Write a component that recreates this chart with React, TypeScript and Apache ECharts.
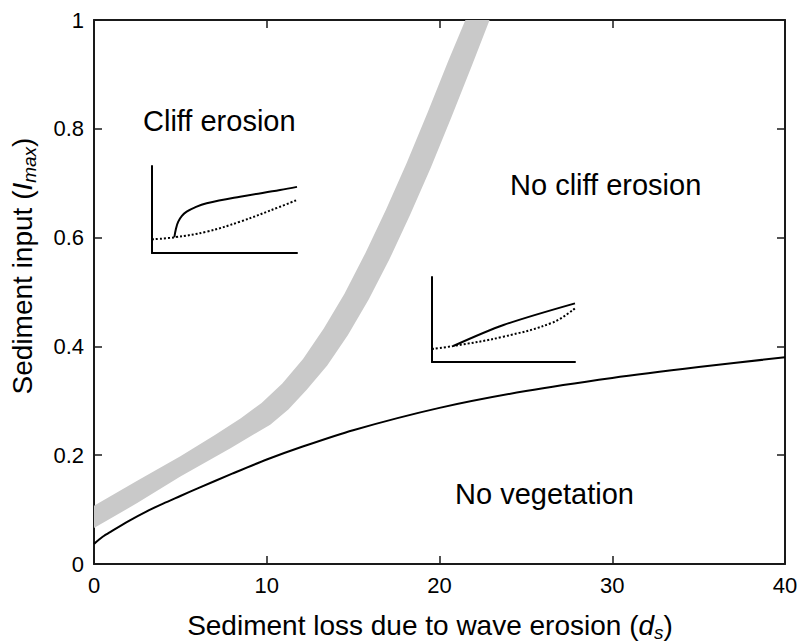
import React, { useEffect, useRef } from "react";
import * as echarts from "echarts";

// Main axes
const xTicks = [0, 10, 20, 30, 40];
const yTicks = [0, 0.2, 0.4, 0.6, 0.8, 1];

// "No vegetation" boundary (black line)
const noVegX = [0, 0.5, 1, 2, 3, 4, 5, 6, 8, 10, 12, 15, 20, 25, 30, 35, 40];
const noVegY = [0.037, 0.05, 0.06, 0.079, 0.096, 0.111, 0.125, 0.139, 0.166, 0.192, 0.215, 0.246, 0.287, 0.318, 0.342, 0.362, 0.38];

// Grey band (cliff erosion threshold) - upper/left edge
const bandUpperX = [0, 2.5, 5, 7, 8.5, 9.7, 10.9, 12.1, 13.3, 14.5, 15.7, 16.9, 18.1, 19.3, 20.5, 21.5];
const bandUpperY = [0.107, 0.153, 0.198, 0.237, 0.268, 0.296, 0.332, 0.377, 0.433, 0.497, 0.571, 0.651, 0.737, 0.829, 0.924, 1.0];
// lower/right edge
const bandLowerX = [0, 2.5, 5, 7.9, 10.2, 11.25, 12.3, 13.5, 14.7, 15.9, 17.1, 18.3, 19.5, 20.7, 21.9, 22.9];
const bandLowerY = [0.066, 0.112, 0.161, 0.213, 0.256, 0.284, 0.32, 0.365, 0.421, 0.486, 0.56, 0.642, 0.729, 0.822, 0.918, 1.0];

// Inset 1 (cliff erosion) schematic, 0..10 both axes
const in1SolidX = [1.54, 1.66, 1.81, 2.05, 2.39, 2.97, 3.77, 6.07, 8.83, 10];
const in1SolidY = [1.8, 2.84, 3.6, 4.25, 4.75, 5.25, 5.71, 6.47, 7.24, 7.6];
const in1DotX = [0, 1.54, 3.77, 6.07, 8.83, 10];
const in1DotY = [1.57, 1.8, 2.45, 3.6, 5.32, 6.1];

// Inset 2 (no cliff erosion) schematic
const in2SolidX = [1.49, 5.0, 10];
const in2SolidY = [1.88, 4.35, 6.9];
const in2DotX = [0, 1.49, 5.0, 8.48, 10];
const in2DotY = [1.53, 1.88, 2.98, 4.67, 6.32];

const FONT = '"Liberation Sans", Arial, Helvetica, sans-serif';
const zip = (xs: number[], ys: number[]) => xs.map((x, i) => [x, ys[i]]);

export default function App() {
  const ref = useRef<HTMLDivElement>(null);
  useEffect(() => {
    if (!ref.current) return;
    const chart = echarts.init(ref.current, undefined, { renderer: "svg" });
    const frameLine = { show: true, onZero: false, lineStyle: { color: "#1a1a1a", width: 2 } };
    const tickIn = { show: true, inside: true, length: 8, lineStyle: { color: "#1a1a1a", width: 1.5 } };
    const insetAxis = (gridIndex: number) => ({
      type: "value" as const,
      gridIndex,
      min: 0,
      max: 10,
      axisLine: { show: true, onZero: false, lineStyle: { color: "#000", width: 2 } },
      axisTick: { show: false },
      axisLabel: { show: false },
      splitLine: { show: false },
    });
    const option: any = {
      animation: false,
      backgroundColor: "#fff",
      grid: [
        { left: 94, top: 20, width: 691, height: 544 },
        { left: 152, top: 166, width: 145, height: 87 },
        { left: 432, top: 277, width: 143, height: 85 },
      ],
      xAxis: [
        {
          type: "value",
          gridIndex: 0,
          position: "bottom",
          min: xTicks[0],
          max: xTicks[xTicks.length - 1],
          interval: 10,
          axisLine: frameLine,
          axisTick: tickIn,
          axisLabel: { color: "#000", fontSize: 22, fontFamily: FONT, margin: 10 },
          splitLine: { show: false },
        },
        {
          type: "value",
          gridIndex: 0,
          position: "top",
          min: xTicks[0],
          max: xTicks[xTicks.length - 1],
          interval: 10,
          axisLine: frameLine,
          axisTick: tickIn,
          axisLabel: { show: false },
          splitLine: { show: false },
        },
        insetAxis(1),
        insetAxis(2),
      ],
      yAxis: [
        {
          type: "value",
          gridIndex: 0,
          position: "left",
          min: yTicks[0],
          max: yTicks[yTicks.length - 1],
          interval: 0.2,
          axisLine: frameLine,
          axisTick: tickIn,
          axisLabel: { color: "#000", fontSize: 22, fontFamily: FONT, margin: 10 },
          splitLine: { show: false },
        },
        {
          type: "value",
          gridIndex: 0,
          position: "right",
          min: yTicks[0],
          max: yTicks[yTicks.length - 1],
          interval: 0.2,
          axisLine: frameLine,
          axisTick: tickIn,
          axisLabel: { show: false },
          splitLine: { show: false },
        },
        insetAxis(1),
        insetAxis(2),
      ],
      series: [
        {
          type: "custom",
          xAxisIndex: 0,
          yAxisIndex: 0,
          data: [[0, 0]],
          silent: true,
          z: 1,
          renderItem: (_p: any, api: any) => {
            const pts: number[][] = [];
            for (let i = 0; i < bandUpperX.length; i++) pts.push(api.coord([bandUpperX[i], bandUpperY[i]]));
            for (let i = bandLowerX.length - 1; i >= 0; i--) pts.push(api.coord([bandLowerX[i], bandLowerY[i]]));
            return { type: "polygon", shape: { points: pts }, style: { fill: "#c9c9c9", stroke: "none" } };
          },
        },
        {
          type: "line",
          xAxisIndex: 0,
          yAxisIndex: 0,
          data: zip(noVegX, noVegY),
          smooth: 0.3,
          showSymbol: false,
          lineStyle: { color: "#000", width: 2 },
          z: 3,
        },
        {
          type: "line",
          xAxisIndex: 2,
          yAxisIndex: 2,
          data: zip(in1SolidX, in1SolidY),
          smooth: 0.4,
          showSymbol: false,
          lineStyle: { color: "#000", width: 2 },
        },
        {
          type: "line",
          xAxisIndex: 2,
          yAxisIndex: 2,
          data: zip(in1DotX, in1DotY),
          smooth: 0.4,
          showSymbol: false,
          lineStyle: { color: "#000", width: 2, type: [2, 2] },
        },
        {
          type: "line",
          xAxisIndex: 3,
          yAxisIndex: 3,
          data: zip(in2SolidX, in2SolidY),
          smooth: 0.3,
          showSymbol: false,
          lineStyle: { color: "#000", width: 2 },
        },
        {
          type: "line",
          xAxisIndex: 3,
          yAxisIndex: 3,
          data: zip(in2DotX, in2DotY),
          smooth: 0.4,
          showSymbol: false,
          lineStyle: { color: "#000", width: 2, type: [2, 2] },
        },
      ],
      graphic: [
        {
          type: "text",
          x: 143,
          y: 121,
          style: { text: "Cliff erosion", font: `29px ${FONT}`, fill: "#000", align: "left", verticalAlign: "middle" },
        },
        {
          type: "text",
          x: 510,
          y: 185,
          style: { text: "No cliff erosion", font: `29px ${FONT}`, fill: "#000", align: "left", verticalAlign: "middle" },
        },
        {
          type: "text",
          x: 455,
          y: 494,
          style: { text: "No vegetation", font: `29px ${FONT}`, fill: "#000", align: "left", verticalAlign: "middle" },
        },
        {
          type: "text",
          x: 430,
          y: 625,
          style: {
            text: "{n|Sediment loss due to wave erosion (}{i|d}{s|s}{n|)}",
            align: "center",
            verticalAlign: "middle",
            rich: {
              n: { fontSize: 28, fontFamily: FONT, fill: "#000", lineHeight: 34 },
              i: { fontSize: 28, fontFamily: FONT, fontStyle: "italic", fill: "#000", lineHeight: 34 },
              s: { fontSize: 19, fontFamily: FONT, fontStyle: "italic", fill: "#000", lineHeight: 20, verticalAlign: "bottom" },
            },
          },
        },
        {
          type: "text",
          x: 22,
          y: 266,
          rotation: Math.PI / 2,
          style: {
            text: "{n|Sediment input (}{i|I}{s|max}{n|)}",
            align: "center",
            verticalAlign: "middle",
            rich: {
              n: { fontSize: 28, fontFamily: FONT, fill: "#000", lineHeight: 34 },
              i: { fontSize: 28, fontFamily: FONT, fontStyle: "italic", fill: "#000", lineHeight: 34 },
              s: { fontSize: 19, fontFamily: FONT, fontStyle: "italic", fill: "#000", lineHeight: 20, verticalAlign: "bottom" },
            },
          },
        },
      ],
    };
    chart.setOption(option);
    return () => chart.dispose();
  }, []);
  return <div ref={ref} style={{ position: "fixed", left: 0, top: 0, width: 804, height: 642 }} />;
}
